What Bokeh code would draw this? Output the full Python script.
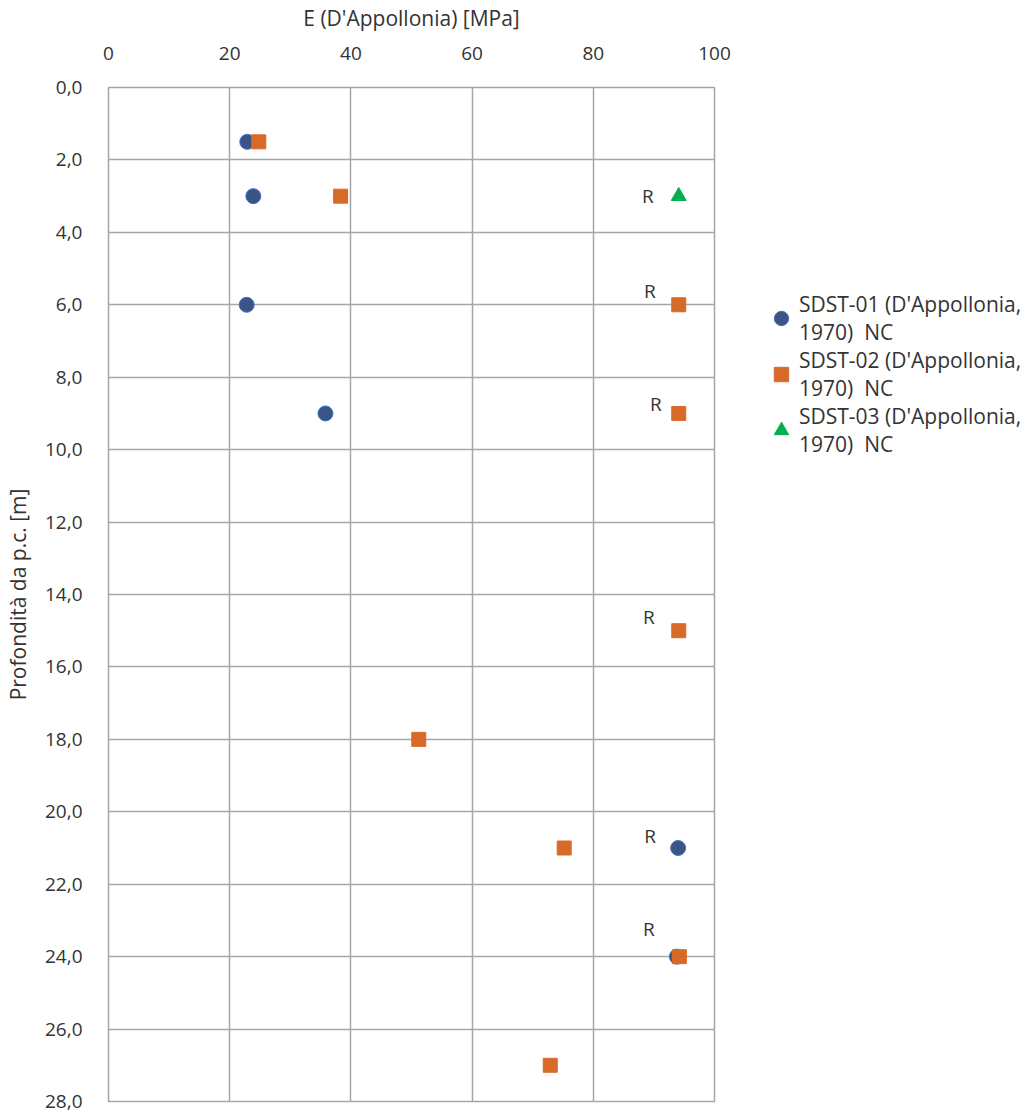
from bokeh.plotting import figure
from bokeh.models import (Range1d, Legend, LegendItem, ColumnDataSource,
                          FixedTicker, CustomJSTickFormatter)
from bokeh.core.properties import value
from bokeh.embed import file_html
from bokeh.resources import INLINE

# ---- data ----
s1_E = [22.9, 23.9, 22.8, 35.8, 94.0, 93.8]
s1_z = [1.5, 3.0, 6.0, 9.0, 21.0, 24.0]
s2_E = [24.8, 38.3, 94.1, 94.1, 94.1, 51.2, 75.2, 94.2, 72.9]
s2_z = [1.5, 3.0, 6.0, 9.0, 15.0, 18.0, 21.0, 24.0, 27.0]
s3_E = [94.1]
s3_z = [3.0]
r_E = [94.1, 94.1, 94.1, 94.1, 94.0, 94.1]
r_z = [3.0, 6.0, 9.0, 15.0, 21.0, 24.0]
r_text = ["R", "R", "R", "R", "R", "R"]
x_ticks = [0, 20, 40, 60, 80, 100]
y_ticks = [0, 2, 4, 6, 8, 10, 12, 14, 16, 18, 20, 22, 24, 26, 28]
names = ["SDST-01 (D'Appollonia,\n1970)  NC",
         "SDST-02 (D'Appollonia,\n1970)  NC",
         "SDST-03 (D'Appollonia,\n1970)  NC"]

# label offsets (style, pixels)
r_dx = [-31, -29, -23, -30, -28, -30]
r_dy = [0, -14, -9, -14, -12, -28]

FONT = "Open Sans"
TXT = "#333333"
GRID = "#A6A6A6"

p = figure(frame_width=606, frame_height=1014,
           x_range=Range1d(0, 100), y_range=Range1d(28, 0),
           x_axis_location="above",
           output_backend="svg", toolbar_location=None,
           min_border_left=107, min_border_top=86, min_border_bottom=12)

p.outline_line_color = GRID
p.outline_line_width = 1.5

for ax in (p.xaxis[0], p.yaxis[0]):
    ax.axis_line_color = None
    ax.major_tick_line_color = None
    ax.minor_tick_line_color = None
    ax.major_tick_out = 0
    ax.major_tick_in = 0
    ax.major_label_text_font = FONT
    ax.major_label_text_font_size = "19px"
    ax.major_label_text_color = TXT
    ax.axis_label_text_font = FONT
    ax.axis_label_text_font_size = "21px"
    ax.axis_label_text_font_style = "normal"
    ax.axis_label_text_color = TXT

p.xaxis.ticker = FixedTicker(ticks=x_ticks)
p.yaxis.ticker = FixedTicker(ticks=y_ticks)
p.yaxis.formatter = CustomJSTickFormatter(code="return tick.toFixed(1).replace('.', ',');")
p.xaxis.axis_label = "E (D'Appollonia) [MPa]"
p.yaxis.axis_label = "Profondità da p.c. [m]"
p.xaxis.major_label_standoff = 28
p.xaxis.axis_label_standoff = 12
p.yaxis.major_label_standoff = 26
p.yaxis.axis_label_standoff = 10

p.xgrid.grid_line_color = GRID
p.ygrid.grid_line_color = GRID
p.xgrid.grid_line_width = 1.5
p.ygrid.grid_line_width = 1.5

r1 = p.scatter(s1_E, s1_z, marker="circle", size=15,
               fill_color="#3B5486", line_color="#4472C4", line_width=1)
r2 = p.scatter(s2_E, s2_z, marker="square", size=14,
               fill_color="#D86A29", line_color="#D86A29")
r3 = p.scatter(s3_E, s3_z, marker="triangle", size=15,
               fill_color="#00B050", line_color="#00B050")

src = ColumnDataSource(dict(x=r_E, y=r_z, t=r_text, dx=r_dx, dy=r_dy))
p.text(x="x", y="y", text="t", source=src, x_offset="dx", y_offset="dy",
       text_font=value(FONT), text_font_size="19px", text_color=TXT,
       text_align="center", text_baseline="middle")

legend = Legend(items=[LegendItem(label=names[0], renderers=[r1]),
                       LegendItem(label=names[1], renderers=[r2]),
                       LegendItem(label=names[2], renderers=[r3])],
                location=(49, 643))
legend.margin = 0
legend.padding = 0
legend.spacing = 0
legend.border_line_color = None
legend.background_fill_alpha = 0
legend.glyph_width = 36
legend.glyph_height = 36
legend.label_standoff = 0
legend.label_text_font = FONT
legend.label_text_font_size = "21px"
legend.label_text_color = TXT
p.add_layout(legend, "right")
p.min_border_right = 300

open("out.html", "w").write(file_html(p, INLINE))
